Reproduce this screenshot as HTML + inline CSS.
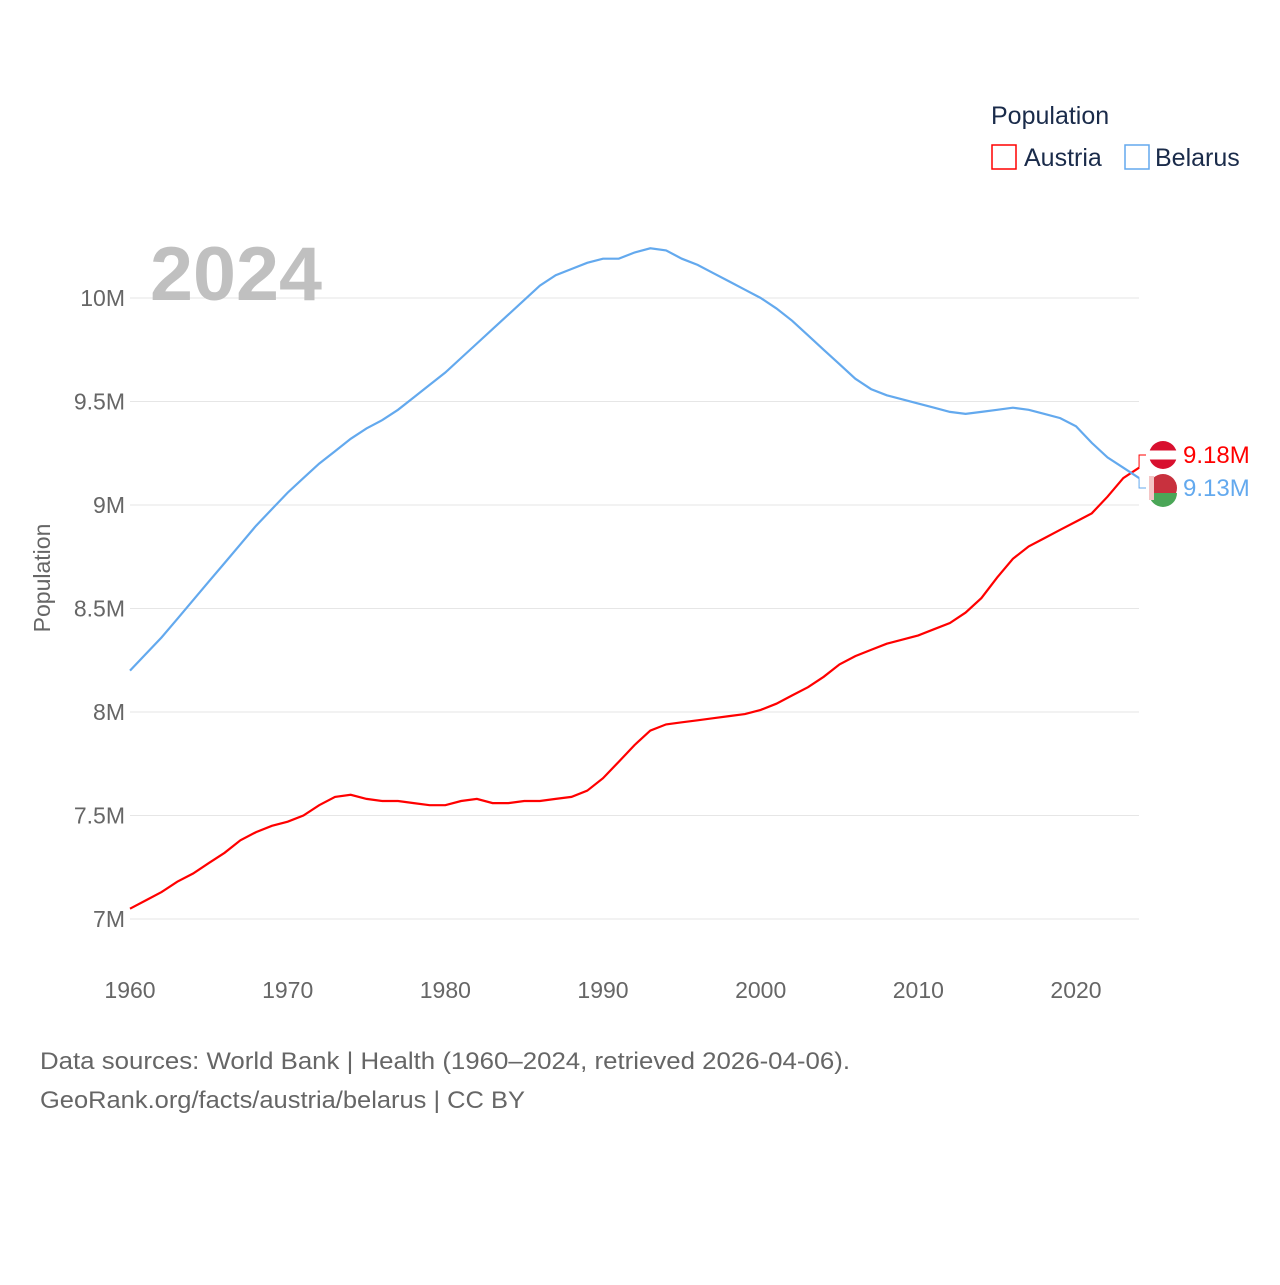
<!DOCTYPE html>
<html><head><meta charset="utf-8"><style>
body{margin:0;background:#fff;width:1280px;height:1280px;overflow:hidden;font-family:"Liberation Sans",sans-serif}
svg text{font-family:"Liberation Sans",sans-serif}
</style></head><body>
<svg id="chart" width="1280" height="1280" xmlns="http://www.w3.org/2000/svg">
<g id="grid"></g>
<g id="yticks"></g>
<g id="xticks"></g>
<text x="150" y="300" font-size="76" font-weight="bold" fill="#c0c0c0" textLength="172" lengthAdjust="spacingAndGlyphs">2024</text>
<text transform="translate(50,578) rotate(-90)" text-anchor="middle" font-size="23" fill="#666">Population</text>
<g id="series"></g>
<g id="endlabels"></g>
<g>
<text x="991" y="124" font-size="25" fill="#1a2b4a">Population</text>
<g><rect x="992" y="145" width="24" height="24" fill="none" stroke="#ff0000" stroke-width="1.5"/><text x="1024" y="166" font-size="25" fill="#1a2b4a">Austria</text></g>
<g><rect x="1125" y="145" width="24" height="24" fill="none" stroke="#63a9ee" stroke-width="1.5"/><text x="1155" y="166" font-size="25" fill="#1a2b4a">Belarus</text></g>
</g>
<text x="40" y="1069" font-size="24" fill="#666" textLength="810" lengthAdjust="spacingAndGlyphs">Data sources: World Bank | Health (1960–2024, retrieved 2026-04-06).</text>
<text x="40" y="1108" font-size="24" fill="#666" textLength="485" lengthAdjust="spacingAndGlyphs">GeoRank.org/facts/austria/belarus | CC BY</text>
</svg>
<script>
const years=[];for(let y=1960;y<=2024;y++)years.push(y);
const austria=[7.05,7.09,7.13,7.18,7.22,7.27,7.32,7.38,7.42,7.45,7.47,7.50,7.55,7.59,7.60,7.58,7.57,7.57,7.56,7.55,7.55,7.57,7.58,7.56,7.56,7.57,7.57,7.58,7.59,7.62,7.68,7.76,7.84,7.91,7.94,7.95,7.96,7.97,7.98,7.99,8.01,8.04,8.08,8.12,8.17,8.23,8.27,8.30,8.33,8.35,8.37,8.40,8.43,8.48,8.55,8.65,8.74,8.80,8.84,8.88,8.92,8.96,9.04,9.13,9.18];
const belarus=[8.20,8.28,8.36,8.45,8.54,8.63,8.72,8.81,8.90,8.98,9.06,9.13,9.20,9.26,9.32,9.37,9.41,9.46,9.52,9.58,9.64,9.71,9.78,9.85,9.92,9.99,10.06,10.11,10.14,10.17,10.19,10.19,10.22,10.24,10.23,10.19,10.16,10.12,10.08,10.04,10.00,9.95,9.89,9.82,9.75,9.68,9.61,9.56,9.53,9.51,9.49,9.47,9.45,9.44,9.45,9.46,9.47,9.46,9.44,9.42,9.38,9.30,9.23,9.18,9.13];
const yTicks=[7,7.5,8,8.5,9,9.5,10];
const yTickLabels=["7M","7.5M","8M","8.5M","9M","9.5M","10M"];
const xTicks=[1960,1970,1980,1990,2000,2010,2020];
const NS="http://www.w3.org/2000/svg";
const xs=y=>130+(y-1960)*(946/60);
const ys=v=>919-(v-7)*207;
function mk(t,a,p){const e=document.createElementNS(NS,t);for(const k in a)e.setAttribute(k,a[k]);p.appendChild(e);return e;}
const grid=document.getElementById('grid'),yt=document.getElementById('yticks'),xt=document.getElementById('xticks');
yTicks.forEach((v,i)=>{
 const l=mk('line',{x1:130,x2:1139,y1:ys(v),y2:ys(v),stroke:'#e6e6e6','stroke-width':1},grid);
 
 
 const t=mk('text',{x:125,y:ys(v)+8,'text-anchor':'end','font-size':23,fill:'#666'},yt);
 t.textContent=yTickLabels[i];
 
 
});
xTicks.forEach(y=>{
 const t=mk('text',{x:xs(y),y:998,'text-anchor':'middle','font-size':23,fill:'#666'},xt);
 t.textContent=y;
 
 
});
const ser=document.getElementById('series');
[[austria,'#ff0000','austria-line'],[belarus,'#63a9ee','belarus-line']].forEach(([d,c,n])=>{
 const p=mk('path',{d:d.map((v,i)=>(i?'L':'M')+xs(years[i]).toFixed(1)+','+ys(v).toFixed(1)).join(''),fill:'none',stroke:c,'stroke-width':2.2},ser);
 
 
});
const el=document.getElementById('endlabels');
const lastA=austria[austria.length-1],lastB=belarus[belarus.length-1];
[[lastA,'#ff0000',455,'austria'],[lastB,'#63a9ee',488,'belarus']].forEach(([v,c,ly,n])=>{
 const x0=xs(2024),y0=ys(v);
 const ln=mk('path',{d:`M${x0},${y0}L${x0},${ly}L1146,${ly}`,fill:'none',stroke:c,'stroke-width':1},el);
 
 
 const g=mk('g',{},el);
 
 
 if(n==='austria'){
  mk('circle',{cx:1163,cy:ly,r:14,fill:'#d8102f'},g);
  mk('rect',{x:1149,y:ly-4.5,width:28,height:9,fill:'#fff'},g);
 }else{
  mk('circle',{cx:1163,cy:ly,r:14,fill:'#c8313e'},g);
  mk('path',{d:`M1149,${ly+5}L1177,${ly+5}A14,14 0 0 1 1149,${ly+5}Z`,fill:'#4aa657'},g);
  mk('rect',{x:1149,y:ly-12,width:5,height:24,fill:'#f4c6c6'},g);
 }
 const t=mk('text',{x:1183,y:ly+8,'font-size':24,fill:c},el);
 t.textContent=v.toFixed(2)+'M';
 
 
});
</script>
</body></html>
